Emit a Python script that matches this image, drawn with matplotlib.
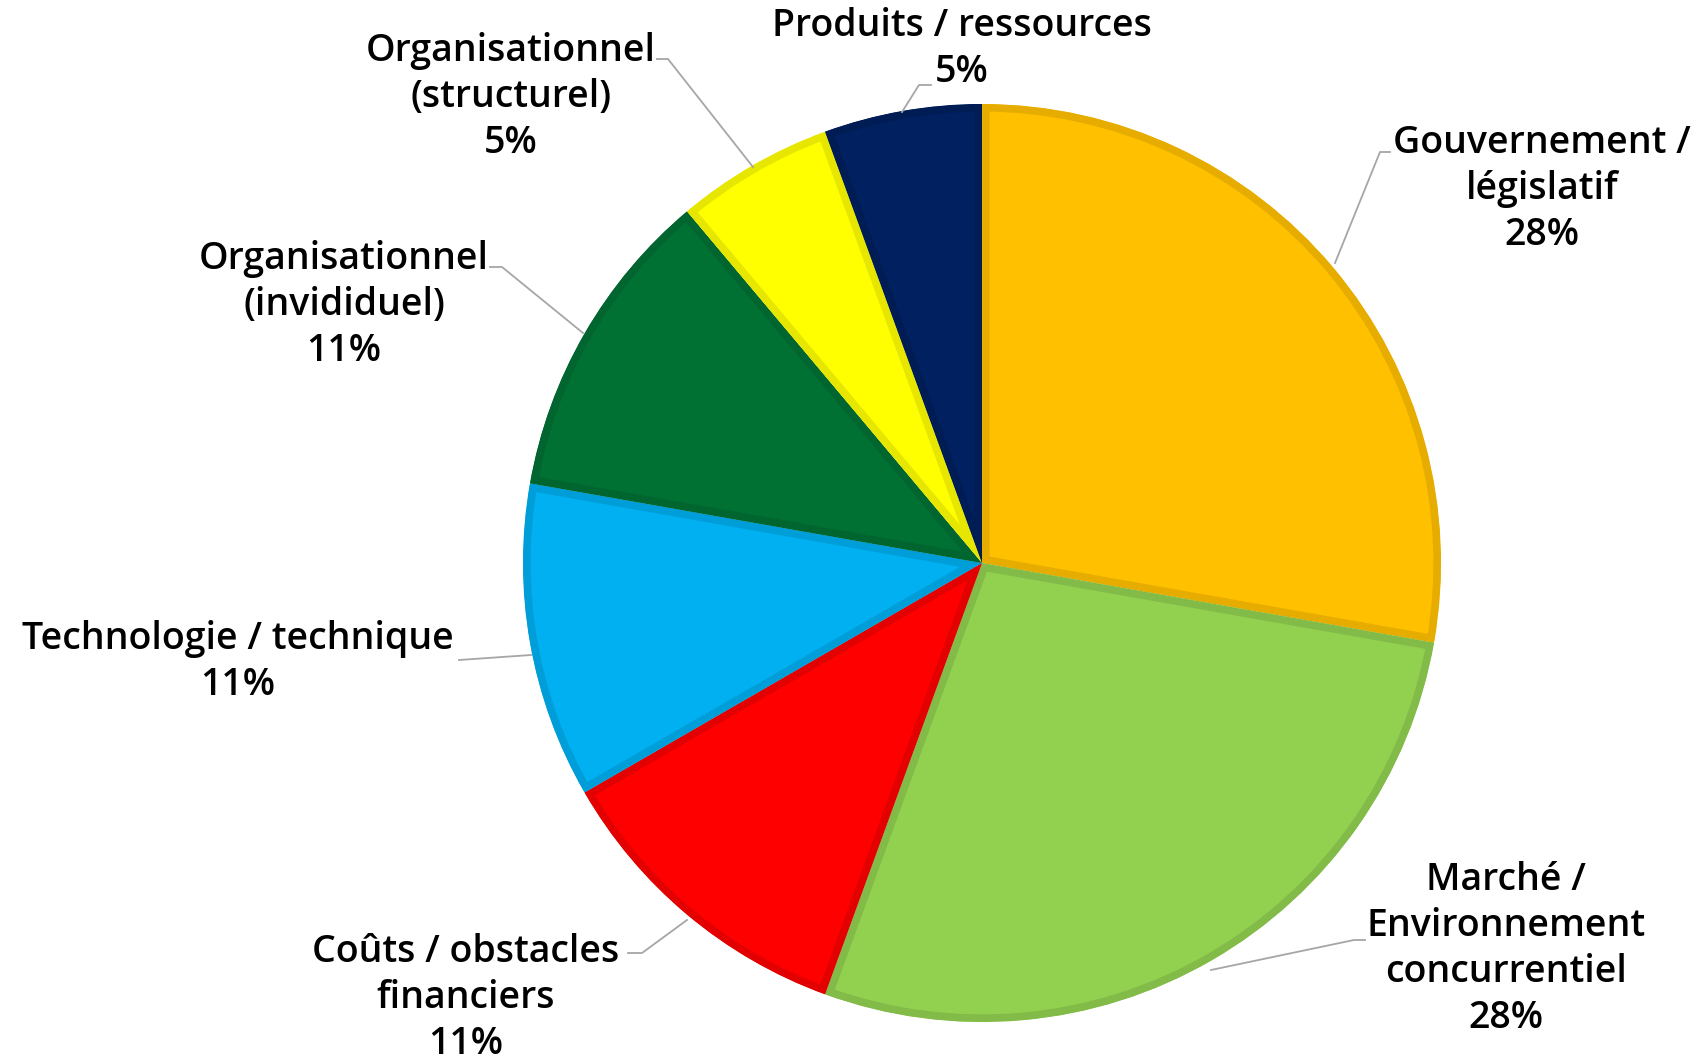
import matplotlib
matplotlib.use("Agg")
import matplotlib.pyplot as plt

# data
categories = ["Gouvernement /\nlégislatif",
              "Marché /\nEnvironnement\nconcurrentiel",
              "Coûts / obstacles\nfinanciers",
              "Technologie / technique",
              "Organisationnel\n(invididuel)",
              "Organisationnel\n(structurel)",
              "Produits / ressources"]
counts = [5, 5, 2, 2, 2, 1, 1]
pct_labels = ["28%", "28%", "11%", "11%", "11%", "5%", "5%"]
colors = ["#FFC000", "#92D050", "#FF0000", "#00B0F0", "#007033", "#FFFF00", "#002060"]
edge_colors = ["#E6AD00", "#83BB48", "#E30000", "#009ED8", "#00652E", "#E6E600", "#001C55"]

# label text centres and leader lines (pixel coords, y from top)
label_pos = [(1542, 189), (1506, 949), (466, 998), (238, 662), (344, 305), (511, 97), (962, 49)]
leaders = [[(1335, 263), (1380, 152), (1390, 152)],
           [(1211, 970), (1354, 940), (1365, 940)],
           [(687, 920), (642, 953), (628, 953)],
           [(531, 655), (459, 660)],
           [(583, 333), (502, 267), (490, 267)],
           [(753, 167), (668, 59), (657, 59)],
           [(902, 112), (919, 85), (931, 85)]]

W, H = 1698, 1062
cx, cy, r = 982, H - 563, 459

fig = plt.figure(figsize=(W / 100, H / 100), dpi=100)
ax = fig.add_axes([0, 0, 1, 1])

wedges, _ = ax.pie(counts, colors=colors, startangle=90, counterclock=False,
                   center=(cx, cy), radius=r, frame=True,
                   wedgeprops=dict(linewidth=11))
ax.set_xlim(0, W)
ax.set_ylim(0, H)
ax.set_aspect("equal")
ax.axis("off")

# inner darker rim: stroke clipped to the slice itself
for w, ec in zip(wedges, edge_colors):
    w.set_edgecolor(ec)
    w.set_clip_on(True)
    w.set_clip_path(w)

for (x, y), cat, pct in zip(label_pos, categories, pct_labels):
    ax.text(x, H - y, cat + "\n" + pct, ha="center", va="center",
            fontsize=27, family="Open Sans", fontweight=600,
            linespacing=1.28, color="black")

for pts in leaders:
    xs = [p[0] for p in pts]
    ys = [H - p[1] for p in pts]
    ax.plot(xs, ys, color="#A6A6A6", lw=1.3)

fig.savefig("out.png", dpi=100)
